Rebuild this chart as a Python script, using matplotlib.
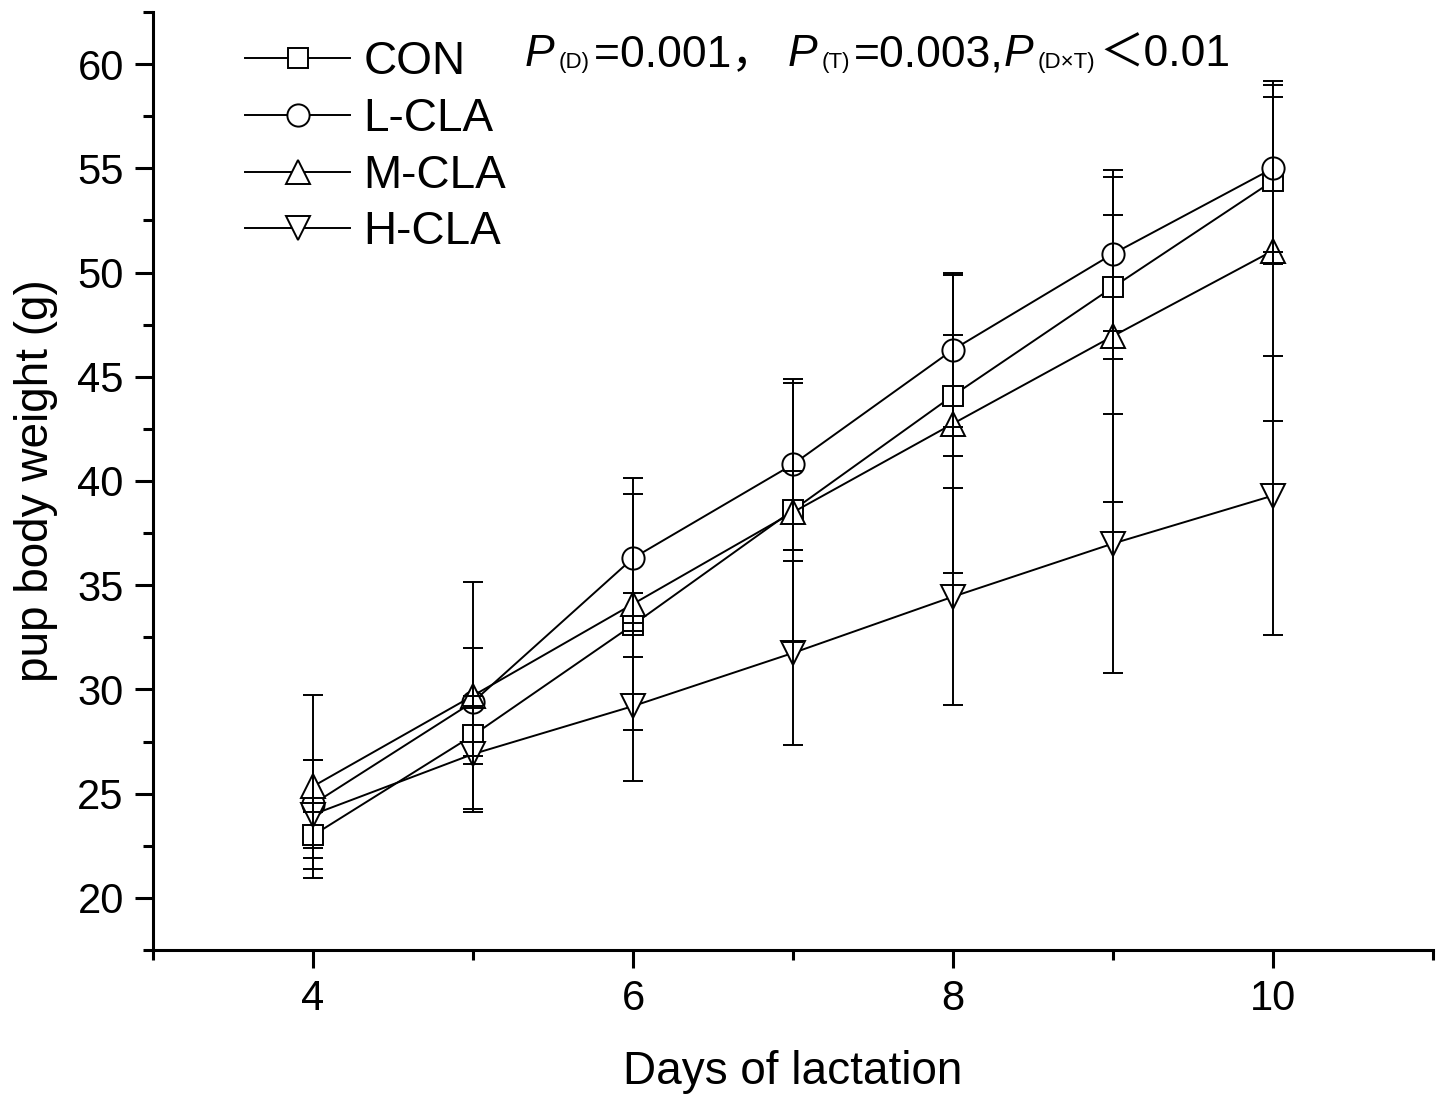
import matplotlib
matplotlib.use("Agg")
import matplotlib.pyplot as plt
from matplotlib.ticker import MultipleLocator

plt.rcParams['font.family'] = ['Liberation Sans', 'Noto Sans CJK SC', 'DejaVu Sans']

# data
days = [4, 5, 6, 7, 8, 9, 10]
con = [23.0, 27.8, 33.1, 38.6, 44.1, 49.3, 54.4]
con_sd = [1.1, 1.4, 1.55, 1.9, 2.9, 3.45, 4.0]
l_cla = [24.5, 29.4, 36.3, 40.8, 46.3, 50.9, 55.0]
l_cla_sd = [2.1, 2.6, 3.1, 4.1, 3.7, 3.7, 4.0]
m_cla = [25.35, 29.7, 34.1, 38.5, 42.75, 46.95, 51.05]
m_cla_sd = [4.4, 5.45, 6.05, 6.2, 7.15, 7.95, 8.15]
h_cla = [24.0, 26.9, 29.2, 31.75, 34.45, 37.0, 39.3]
h_cla_sd = [2.6, 2.8, 3.6, 4.4, 5.2, 6.2, 6.7]

groups = ['CON', 'L-CLA', 'M-CLA', 'H-CLA']
means = [con, l_cla, m_cla, h_cla]
sds = [con_sd, l_cla_sd, m_cla_sd, h_cla_sd]
markers = ['s', 'o', '^', 'v']
msizes = [14.5, 16, 17, 17]

# stats note, split so that P can be italic and the subscripts small
note = [('P', 'italic', 'big'), ('(D)', 'normal', 'sub'), ('=0.001， ', 'normal', 'big'),
        ('P', 'italic', 'big'), ('(T)', 'normal', 'sub'), ('=0.003,', 'normal', 'big'),
        ('P', 'italic', 'big'), ('(D×T)', 'normal', 'sub'), ('＜0.01', 'normal', 'big')]

fig = plt.figure(figsize=(14.38, 10.95), dpi=100)
ax = fig.add_axes([153/1438, 145/1095, 1280/1438, 938/1095])

for name, y, sd, mk, ms in zip(groups, means, sds, markers, msizes):
    ax.plot(days, y, color='black', lw=1.4, marker=mk, ms=ms,
            mfc='white', mec='black', mew=1.4, label=name, zorder=2)
    ax.errorbar(days, y, yerr=sd, fmt='none', ecolor='black',
                elinewidth=1.4, capsize=7, capthick=1.4, zorder=3)

ax.set_xlim(3, 11)
ax.set_ylim(17.5, 62.5)
ax.xaxis.set_major_locator(MultipleLocator(2))
ax.xaxis.set_minor_locator(MultipleLocator(1))
ax.yaxis.set_minor_locator(MultipleLocator(2.5))
ax.set_yticks([20, 25, 30, 35, 40, 45, 50, 55, 60])

for s in ['top', 'right']:
    ax.spines[s].set_visible(False)
for s in ['left', 'bottom']:
    ax.spines[s].set_linewidth(2.2)
ax.tick_params(which='major', direction='out', length=13, width=2.2,
               labelsize=30, pad=8)
ax.tick_params(which='minor', direction='out', length=7, width=2.2)

ax.set_xlabel('Days of lactation', fontsize=33, labelpad=22)
ax.set_ylabel('pup body weight (g)', fontsize=33, labelpad=14)

ax.legend(loc='upper left', bbox_to_anchor=(245/1438, 1 - 40/1095),
          bbox_transform=fig.transFigure, frameon=False, fontsize=33,
          handlelength=2.3, handletextpad=0.28, labelspacing=0.28,
          borderpad=0, borderaxespad=0)

# lay out the note piece by piece, in pixels
fig.canvas.draw()
renderer = fig.canvas.get_renderer()
x = 525
base = 1095 - 66
for txt, style, kind in note:
    if kind == 'sub':
        x += 4
    size = 32 if kind == 'big' else 16
    yy = base if kind == 'big' else base - 2
    t = fig.text(x / 1438, yy / 1095, txt, fontsize=size, style=style,
                 ha='left', va='baseline')
    x += t.get_window_extent(renderer).width
    if kind == 'sub':
        x += 4

fig.savefig('out.png', dpi=100)
